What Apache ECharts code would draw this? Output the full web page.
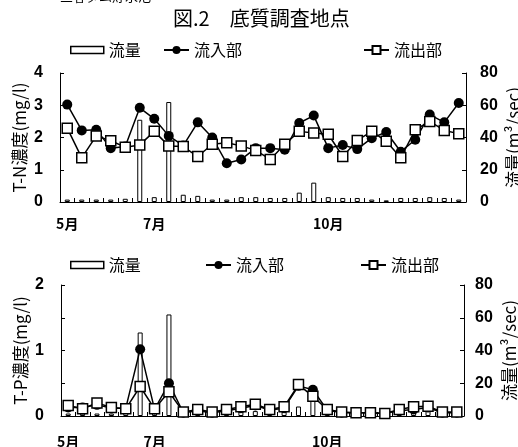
<!DOCTYPE html>
<html>
<head>
<meta charset="utf-8">
<script src="https://cdn.jsdelivr.net/npm/echarts@6/dist/echarts.min.js"></script>
<style>
  html, body { margin: 0; padding: 0; background: #fff; }
  #chart { width: 518px; height: 447px; }
</style>
</head>
<body>
<div id="chart"></div>
<script>
// 調査回 (28回)
const categories = ['1', '2', '3', '4', '5', '6', '7', '8', '9', '10', '11', '12', '13', '14',
  '15', '16', '17', '18', '19', '20', '21', '22', '23', '24', '25', '26', '27', '28']
// 月ラベル [index, label]
const monthTicks = [[0, '5月'], [6, '7月'], [18, '10月']]

// 流量 (m3/sec) 上下共通
const flow = [1.5, 1.5, 1.5, 1.5, 2, 51, 3, 62, 4.5, 3.8, 1.5, 1.5, 3, 3,
  2.5, 2.5, 5.8, 12, 3, 2.5, 2.5, 1.5, 1, 2.5, 2.5, 3, 2.5, 1.5]

// T-N (mg/l)
const tnIn = [3.02, 2.22, 2.24, 1.67, 1.72, 2.92, 2.58, 2.05, 1.75, 2.47, 2.0, 1.2, 1.32, 1.67,
  1.67, 1.62, 2.45, 2.68, 1.67, 1.77, 1.64, 1.98, 2.17, 1.56, 1.93, 2.71, 2.47, 3.07]
const tnOut = [2.29, 1.37, 2.05, 1.9, 1.7, 1.77, 2.19, 1.74, 1.72, 1.41, 1.79, 1.84, 1.74, 1.6,
  1.32, 1.79, 2.19, 2.14, 2.1, 1.41, 1.91, 2.19, 1.88, 1.37, 2.24, 2.5, 2.22, 2.12]

// T-P (mg/l)
const tpIn = [0.13, 0.13, 0.17, 0.12, 0.12, 1.02, 0.1, 0.5, 0.05, 0.08, 0.05, 0.08, 0.12, 0.16,
  0.09, 0.12, 0.46, 0.4, 0.09, 0.05, 0.05, 0.05, 0.04, 0.08, 0.1, 0.13, 0.05, 0.05]
const tpOut = [0.16, 0.11, 0.2, 0.13, 0.11, 0.45, 0.11, 0.37, 0.06, 0.1, 0.06, 0.1, 0.14, 0.18,
  0.1, 0.14, 0.48, 0.3, 0.1, 0.06, 0.05, 0.05, 0.04, 0.1, 0.14, 0.15, 0.06, 0.06]

const num = '"Liberation Sans", Arial, sans-serif'
const jp = '"Noto Sans CJK JP", sans-serif'
const black = '#000'

function xAxis(gridIndex, margin) {
  const ticks = monthTicks.map(t => t[0])
  return {
    type: 'category',
    gridIndex,
    data: categories,
    boundaryGap: true,
    axisLine: { show: true, lineStyle: { color: black, width: 1 } },
    axisTick: { show: true, inside: true, length: 4, interval: 0, lineStyle: { color: black } },
    axisLabel: {
      interval: (i) => ticks.indexOf(i) >= 0,
      formatter: (v, i) => {
        const t = monthTicks.find(m => m[0] === i)
        return t ? t[1] : ''
      },
      margin,
      fontSize: 14,
      fontWeight: 'bold',
      fontFamily: jp,
      color: black
    },
    splitLine: { show: false }
  }
}

function yAxis(gridIndex, pos, max, interval, name, nameGap, margin, fmt) {
  return {
    type: 'value',
    gridIndex,
    position: pos,
    min: 0,
    max,
    interval,
    name,
    nameLocation: 'middle',
    nameRotate: 90,
    nameGap,
    nameMoveOverlap: false,
    nameTextStyle: { fontSize: 17, fontFamily: jp, color: black },
    axisLine: { show: true, lineStyle: { color: black, width: 1 } },
    axisTick: { show: true, inside: true, length: 4, lineStyle: { color: black } },
    axisLabel: { margin, fontSize: 16, fontWeight: 'bold', fontFamily: num, color: black, formatter: fmt },
    splitLine: { show: false }
  }
}

function legendItem(name, left, top, w, h, bar) {
  const l = {
    data: [name],
    left,
    top,
    padding: 0,
    itemWidth: w,
    itemHeight: h,
    selectedMode: false,
    textStyle: { fontSize: 16, fontFamily: jp, color: black }
  }
  if (bar) {
    l.icon = 'rect'
    l.itemStyle = { color: '#fff', borderColor: black, borderWidth: 1.5 }
  }
  return l
}

function seriesFor(xi, yl, yr, inData, outData) {
  return [
    {
      name: '流量', type: 'bar', xAxisIndex: xi, yAxisIndex: yr, data: flow,
      barWidth: 5,
      itemStyle: { color: '#fff', borderColor: black, borderWidth: 1 }
    },
    {
      name: '流入部', type: 'line', xAxisIndex: xi, yAxisIndex: yl, data: inData,
      symbol: 'circle', symbolSize: 10, showSymbol: true, showAllSymbol: true,
      itemStyle: { color: black },
      lineStyle: { color: black, width: 1.5 }
    },
    {
      name: '流出部', type: 'line', xAxisIndex: xi, yAxisIndex: yl, data: outData,
      symbol: 'rect', symbolSize: 10, showSymbol: true, showAllSymbol: true,
      itemStyle: { color: '#fff', borderColor: black, borderWidth: 1.5 },
      lineStyle: { color: black, width: 1.5 }
    }
  ]
}

const chart = echarts.init(document.getElementById('chart'), null, { renderer: 'canvas' })

chart.setOption({
  animation: false,
  backgroundColor: '#fff',
  title: {
    text: '図.2　底質調査地点',
    left: 173,
    top: 8,
    padding: 0,
    textStyle: { fontSize: 20, fontWeight: 'normal', fontFamily: jp, color: black }
  },
  graphic: [{
    type: 'text', x: 60, y: -10,
    style: { text: '三春ダム貯水池', font: '13px "Noto Sans CJK JP"', fill: black }
  }],
  legend: [
    legendItem('流量', 70, 42, 33, 7, true),
    legendItem('流入部', 163, 42, 25, 10),
    legendItem('流出部', 363, 42, 25, 10),
    legendItem('流量', 70, 257, 33, 7, true),
    legendItem('流入部', 205, 257, 25, 10),
    legendItem('流出部', 360, 257, 25, 10)
  ],
  grid: [
    { left: 60, top: 73, width: 406, height: 129, outerBoundsMode: 'none' },
    { left: 61, top: 285, width: 403, height: 131, outerBoundsMode: 'none' }
  ],
  xAxis: [xAxis(0, 15), xAxis(1, 19)],
  yAxis: [
    yAxis(0, 'left', 4, 1, 'T-N濃度(mg/l)', 32, 17),
    yAxis(0, 'right', 80, 20, '流量(m³/sec)', 39, 14),
    yAxis(1, 'left', 2, 0.5, 'T-P濃度(mg/l)', 32, 17, v => (Number.isInteger(v) ? String(v) : '')),
    yAxis(1, 'right', 80, 20, '流量(m³/sec)', 37, 11)
  ],
  series: [
    ...seriesFor(0, 0, 1, tnIn, tnOut),
    ...seriesFor(1, 2, 3, tpIn, tpOut)
  ]
})
</script>
</body>
</html>
